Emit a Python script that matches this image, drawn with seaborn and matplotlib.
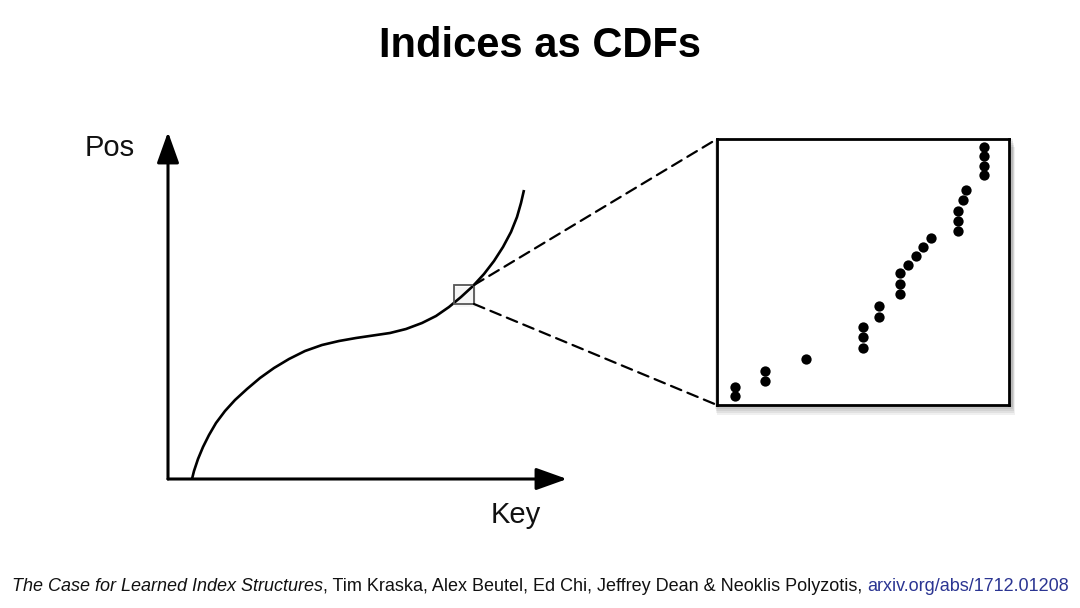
import matplotlib
matplotlib.use("Agg")
import matplotlib.pyplot as plt
from matplotlib.patches import Rectangle, ConnectionPatch
import pandas as pd
import seaborn as sns

# ========== DONNEES ==========
# courbe CDF (cle -> position)
curve_key = [24, 26, 30, 35, 41, 48, 57, 67, 79, 92, 106, 121, 137, 154, 171,
             188, 205, 222, 238, 254, 268, 281, 293, 305, 316, 326, 335, 343,
             349, 353, 356]
curve_pos = [0, 8, 20, 32, 44, 56, 68, 79, 90, 101, 111, 120, 128, 134, 138,
             141, 143.5, 146, 150, 156, 163, 172, 182, 193, 205, 218, 232, 247,
             262, 276, 289]

# points du zoom (cles discretes -> positions)
zoom_key = [18, 18, 48, 48, 89, 146, 146, 146, 162, 162, 183, 183, 183,
            191, 199, 206, 214, 241, 241, 241, 246, 249, 267, 267, 267, 267]
zoom_pos = [18, 9, 34, 24, 46, 78, 68, 57, 99, 88, 132, 121, 111,
            140, 149, 158, 167, 194, 184, 174, 205, 215, 258, 249, 239, 230]

titre = "Indices as CDFs"
label_x = "Key"
label_y = "Pos"
ref_titre = "The Case for Learned Index Structures"
ref_auteurs = ", Tim Kraska, Alex Beutel, Ed Chi, Jeffrey Dean & Neoklis Polyzotis, "
ref_lien = "arxiv.org/abs/1712.01208"

# ========== STYLE ==========
sns.set_style("white")
plt.rcParams["font.family"] = ["Liberation Sans", "DejaVu Sans"]

W, H = 1080, 608
fig = plt.figure(figsize=(W / 100, H / 100), dpi=100)


def px_box(x0, y0, x1, y1):
    # boite en pixels (haut-gauche, bas-droite) -> coordonnees figure
    return [x0 / W, 1 - y1 / H, (x1 - x0) / W, (y1 - y0) / H]


# ========== GRAPHE PRINCIPAL ==========
ax = fig.add_axes(px_box(168, 132, 567, 479))
ax.set_xlim(0, 399)
ax.set_ylim(0, 347)
ax.axis("off")

df_curve = pd.DataFrame({"key": curve_key, "pos": curve_pos})
sns.lineplot(data=df_curve, x="key", y="pos", ax=ax, color="black",
             linewidth=1.9, sort=False, estimator=None, clip_on=False,
             solid_joinstyle="round", solid_capstyle="butt")

fleche = dict(arrowstyle="-|>,head_length=0.95,head_width=0.34",
              color="black", lw=2.2, shrinkA=0, shrinkB=0, mutation_scale=20)
ax.annotate("", xy=(399, 0), xytext=(0, 0), arrowprops=fleche,
            annotation_clip=False)
ax.annotate("", xy=(0, 347), xytext=(0, 0), arrowprops=fleche,
            annotation_clip=False)

# petit carre de zoom (avec une ombre legere)
ax.add_patch(Rectangle((287, 172), 21, 20, facecolor="black", edgecolor="none",
                       alpha=0.04, zorder=4))
ax.add_patch(Rectangle((286, 175), 20, 19, fill=False, edgecolor="#555555",
                       lw=1.3, zorder=5))

# ========== ENCART ==========
x0, y0, x1, y1 = 717, 139, 1009, 405
for k in range(5):
    d = 2 + 2 * k
    fig.add_artist(Rectangle(((x0 - 3 + d * 0.3) / W, 1 - (y1 + d) / H),
                             (x1 - x0 + 6) / W, (y1 - y0 + 2) / H,
                             transform=fig.transFigure, facecolor="black",
                             edgecolor="none", alpha=0.06, zorder=-1))

axi = fig.add_axes(px_box(x0, y0, x1, y1))
axi.set_xlim(0, x1 - x0)
axi.set_ylim(0, y1 - y0)
axi.set_xticks([])
axi.set_yticks([])
for s in axi.spines.values():
    s.set_visible(True)
    s.set_color("black")
    s.set_linewidth(2.0)

df_zoom = pd.DataFrame({"key": zoom_key, "pos": zoom_pos})
sns.scatterplot(data=df_zoom, x="key", y="pos", ax=axi, color="black",
                s=55, linewidth=0, legend=False)
axi.set_xlabel("")
axi.set_ylabel("")

# lignes pointillees vers l'encart
for (xa, ya), (xb, yb) in [((306, 194), (0, y1 - y0)), ((306, 175), (0, 0))]:
    cp = ConnectionPatch(xyA=(xa, ya), coordsA=ax.transData,
                         xyB=(xb, yb), coordsB=axi.transData,
                         color="black", lw=1.6, linestyle=(0, (5, 3)))
    fig.add_artist(cp)

# ========== TEXTES ==========
fig.text(0.5, 1 - 57 / H, titre, ha="center", va="baseline",
         fontsize=30, fontweight="bold", color="black")
fig.text(85 / W, 1 - 156 / H, label_y, ha="left", va="baseline",
         fontsize=21, color="#111111")
fig.text(491 / W, 1 - 523 / H, label_x, ha="left", va="baseline",
         fontsize=21, color="#111111")

# reference en bas, morceaux places l'un apres l'autre
renderer = fig.canvas.get_renderer()
x_cur = 12
morceaux = [(ref_titre, "italic", "#111111"),
            (ref_auteurs, "normal", "#111111"),
            (ref_lien, "normal", "#2b3592")]
for texte, style, couleur in morceaux:
    t = fig.text(x_cur / W, 1 - 591 / H, texte, ha="left", va="baseline",
                 fontsize=13, fontstyle=style, color=couleur)
    x_cur = t.get_window_extent(renderer).x1

fig.savefig("out.png", dpi=100, facecolor="white")
